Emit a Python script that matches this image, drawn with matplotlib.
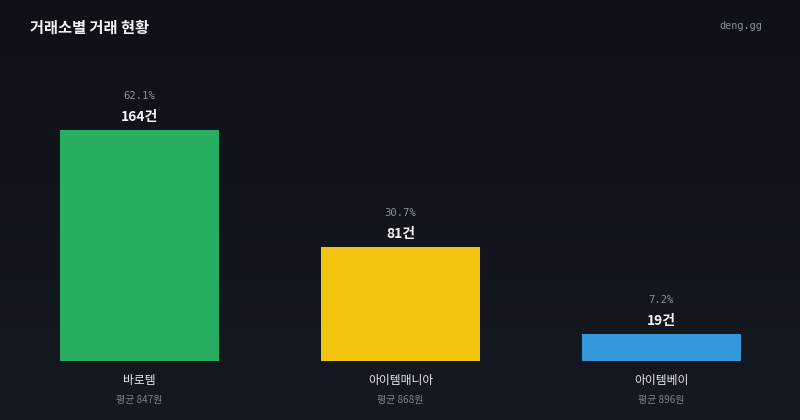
import matplotlib
matplotlib.use('Agg')
import matplotlib.pyplot as plt
import numpy as np

plt.rcParams['font.family'] = ['Noto Sans CJK KR', 'DejaVu Sans']

title = '거래소별 거래 현황'
site = 'deng.gg'
exchanges = ['바로템', '아이템매니아', '아이템베이']
counts = [164, 81, 19]
shares = [62.1, 30.7, 7.2]
avg_price = [847, 868, 896]
colors = ['#27ae60', '#f1c40f', '#3498db']

W, H = 800, 420
fig = plt.figure(figsize=(W / 100, H / 100), dpi=100)

# background gradient
bg = fig.add_axes([0, 0, 1, 1])
grad = np.linspace(0, 1, 256).reshape(-1, 1)
top_c = np.array([14, 17, 23]) / 255
bot_c = np.array([21, 25, 32]) / 255
img = top_c + (bot_c - top_c) * grad[:, :, None]
bg.imshow(img, aspect='auto', extent=[0, 1, 0, 1])
bg.axis('off')

# bar area in pixels: x 9..792, baseline y=361 (from top), top of tallest bar y=130
left, right = 9, 792
base, top = 361, 130
ax = fig.add_axes([left / W, (H - base) / H, (right - left) / W, (base - top) / H])
ax.set_facecolor('none')
x = np.arange(len(exchanges))
ax.bar(x, counts, width=0.61, color=colors)
ax.set_xlim(-0.5, len(exchanges) - 0.5)
ax.set_ylim(0, max(counts))
ax.axis('off')

for xi, c, s, name, p in zip(x, counts, shares, exchanges, avg_price):
    ax.annotate(f'{s}%', (xi, c), xytext=(0, 24.5), textcoords='offset points',
                ha='center', va='center', fontsize=7.6, color='#8b929c',
                family='DejaVu Sans Mono', annotation_clip=False)
    ax.annotate(f'{c}건', (xi, c), xytext=(0, 9.4), textcoords='offset points',
                ha='center', va='center', fontsize=10, fontweight='bold',
                color='#f2f4f7', annotation_clip=False)
    ax.annotate(name, (xi, 0), xytext=(0, -13.7), textcoords='offset points',
                ha='center', va='center', fontsize=8.5, color='#e6e8eb',
                annotation_clip=False)
    ax.annotate(f'평균 {p}원', (xi, 0), xytext=(0, -28), textcoords='offset points',
                ha='center', va='center', fontsize=7.2, color='#7d838c',
                annotation_clip=False)

fig.text(30 / W, 1 - 28 / H, title, ha='left', va='center', fontsize=11,
         fontweight='bold', color='#f2f4f7')
fig.text(762 / W, 1 - 26 / H, site, ha='right', va='center', fontsize=7.3,
         family='DejaVu Sans Mono', color='#8b929c')

fig.savefig('out.png', dpi=100)
